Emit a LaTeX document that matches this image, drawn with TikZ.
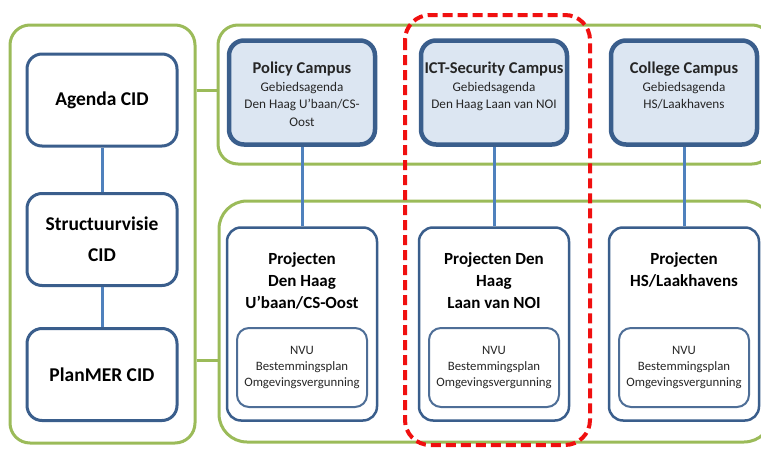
\documentclass[tikz,border=0pt]{standalone}
\usepackage{fontspec}
\setmainfont{Carlito}
\usetikzlibrary{positioning}
\definecolor{grn}{HTML}{9BBB59}
\definecolor{dblue}{HTML}{3A5E8C}
\definecolor{lblue}{HTML}{4F81BD}
\definecolor{cfill}{HTML}{DCE6F2}
\definecolor{hlred}{HTML}{F01010}

\begin{document}
\begin{tikzpicture}[x=1pt,y=-1pt,
  grp/.style={draw=grn,line width=3pt,rounded corners=20pt},
  box/.style={draw=dblue,line width=3pt,rounded corners=15pt,fill=white,
    minimum width=150pt,minimum height=92pt,align=center,
    font=\fontsize{19.5}{31}\selectfont\bfseries},
  campus/.style={draw=dblue,line width=4.5pt,rounded corners=15pt,fill=cfill,
    minimum width=146pt,minimum height=104pt},
  proj/.style={draw=dblue,line width=2.5pt,rounded corners=14pt,fill=white,
    minimum width=150pt,minimum height=193pt},
  nvu/.style={draw=dblue!90,line width=2pt,rounded corners=12pt,fill=white,
    minimum width=130pt,minimum height=79pt,align=center,text=black!85,
    font=\fontsize{12.8}{16}\selectfont},
  ctext/.style={align=center,anchor=north,inner sep=0pt,text=black!85,
    font=\fontsize{13.2}{17.5}\selectfont},
  ptext/.style={align=center,anchor=north,inner sep=0pt,
    font=\fontsize{17}{22}\selectfont\bfseries},
  link/.style={draw=lblue,line width=3pt},
  glink/.style={draw=grn,line width=3pt}]
  \clip (0,0) rectangle (761,450);

  % groups
  \node[grp,minimum width=185pt,minimum height=418pt] (leftgrp) at (102.5,234) {};
  \node[grp,minimum width=554pt,minimum height=139pt] (topgrp) at (495,94.5) {};
  \node[grp,rounded corners=28pt,minimum width=553pt,minimum height=241pt] (botgrp) at (495.5,321.5) {};
  \draw[glink] (leftgrp.east |- 0,90) -- (topgrp.west |- 0,90);
  \draw[glink] (leftgrp.east |- 0,360) -- (botgrp.west |- 0,360);

  % CID column
  \node[box] (agenda) at (102,100) {Agenda CID};
  \node[box] (struct) at (102,239.5) {Structuurvisie\\CID};
  \node[box] (planmer) at (102,374.5) {PlanMER CID};
  \draw[link] (agenda) -- (struct);
  \draw[link] (struct) -- (planmer);

  % campus columns
  \foreach \x/\n/\ct/\pt in {
      302/pol/{{\fontsize{16.5}{17.5}\selectfont\bfseries Policy Campus}\\Gebiedsagenda\\Den Haag U’baan/CS-\\Oost}/{Projecten\\Den Haag\\U’baan/CS-Oost},
      494/ict/{{\fontsize{16.5}{17.5}\selectfont\bfseries ICT-Security Campus}\\Gebiedsagenda\\Den Haag Laan van NOI}/{Projecten Den\\Haag\\Laan van NOI},
      684/col/{{\fontsize{16.5}{17.5}\selectfont\bfseries College Campus}\\Gebiedsagenda\\HS/Laakhavens}/{Projecten\\HS/Laakhavens}} {
    \node[campus] (\n c) at (\x,92.5) {};
    \node[ctext] (\n ct) at (\x,62) {\ct};
    \node[proj] (\n p) at (\x,324) {};
    \node[ptext] (\n pt) at (\x,252) {\pt};
    \node[nvu] (\n n) at (\x,367.5) {NVU\\Bestemmingsplan\\Omgevingsvergunning};
    \draw[link] (\n c) -- (\n p);
  }

  % highlight
  \draw[hlred,line width=4pt,dash pattern=on 10pt off 5pt,rounded corners=25pt]
    (405,15) rectangle (590,445);
\end{tikzpicture}
\end{document}
